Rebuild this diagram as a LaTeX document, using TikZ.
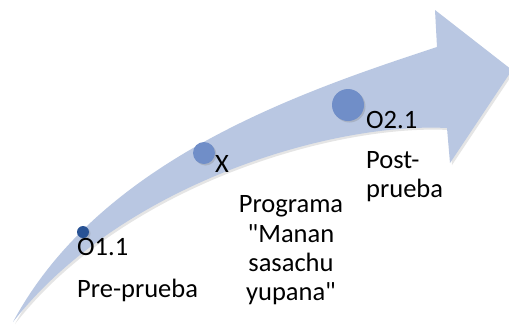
\documentclass[tikz,border=0pt]{standalone}
\usepackage{fontspec}
\setmainfont{Carlito}[Ligatures=TeXOff]
\usetikzlibrary{shadows}
\definecolor{bandblue}{RGB}{185,199,226}
\definecolor{dotdark}{RGB}{40,82,148}
\definecolor{dotmid}{RGB}{112,142,200}
\tikzset{
  lbl/.style={anchor=base west,inner sep=0pt,font=\fontsize{26.5}{29}\selectfont},
  clbl/.style={anchor=base,inner sep=0pt,font=\fontsize{26.5}{29}\selectfont},
  dot/.style={circle,inner sep=0pt,draw=none,drop shadow={opacity=0.3,shadow xshift=1.5pt,shadow yshift=-1.5pt}},
}
\begin{document}
\begin{tikzpicture}[x=1pt,y=-1pt]
\useasboundingbox (0,0) rectangle (509,325);
\fill[white] (0,0) rectangle (509,325);
% band arrow
\fill[bandblue,drop shadow={opacity=0.2,shadow xshift=2pt,shadow yshift=-2pt}]
  (13,322) .. controls (100,160) and (300,92) .. (437,47)
  -- (435,10) -- (512,70) -- (450,163) -- (447,128)
  .. controls (330,122) and (120,185) .. (13,322) -- cycle;
% dots
\node[dot,fill=dotdark,minimum size=12pt] (d1) at (83,232) {};
\node[dot,fill=dotmid,minimum size=22pt] (d2) at (204,153) {};
\node[dot,fill=dotmid,minimum size=32pt] (d3) at (348,105) {};
% labels
\node[lbl] (o11) at (77,255) {O1.1};
\node[lbl] (pre) at (77,297) {Pre-prueba};
\node[lbl] (x) at (215,172) {X};
\node[clbl] (prog1) at (291,212) {Programa};
\node[clbl] (prog2) at (291,242) {"Manan};
\node[clbl] (prog3) at (291,271) {sasachu};
\node[clbl] (prog4) at (291,300) {yupana"};
\node[lbl] (o21) at (366,128) {O2.1};
\node[lbl] (post1) at (366,168) {Post-};
\node[lbl] (post2) at (366,197) {prueba};
\end{tikzpicture}
\end{document}
